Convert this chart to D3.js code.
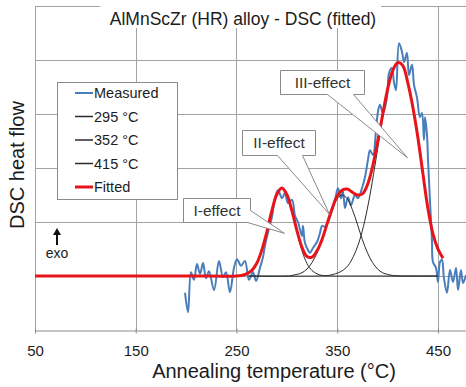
<!DOCTYPE html>
<html>
<head>
<meta charset="utf-8">
<script src="https://cdn.jsdelivr.net/npm/d3@7"></script>
<style>
  body { margin: 0; background: #fff; }
  svg { display: block; }
  text { font-family: "Liberation Sans", Arial, sans-serif; }
</style>
</head>
<body>
<svg id="chart" width="466" height="387"></svg>
<script>
"use strict";

// values: [temperature °C, heat flow (grid units)]
const measured = [
  [198.9, -0.31], [201.9, -0.67], [204.8, 0.07], [207.8, -0.07], [210.8, 0.22],
  [213.8, 0.04], [216.8, 0.24], [219.7, -0.04], [222.7, 0.09], [227.7, -0.26],
  [232.6, 0.28], [236.6, -0.02], [239.6, 0.07], [243.5, -0.30], [247.5, 0.15],
  [250.5, 0.31], [254.5, 0.19], [258.4, 0.28], [262.4, -0.07], [266.4, 0.07],
  [269.4, -0.09], [273.3, 0.15], [276.3, 0.35], [278.3, 0.57], [281.3, 0.81],
  [285.2, 1.09], [288.2, 1.44], [291.2, 1.59], [295.2, 1.44], [298.1, 1.54],
  [301.1, 1.35], [305.1, 1.41], [308.1, 1.11], [311.0, 1.00], [315.0, 0.74],
  [316.0, 0.93], [318.0, 0.61], [321.0, 0.48], [322.9, 0.43], [325.9, 0.52],
  [329.9, 0.63], [332.9, 0.80], [334.9, 0.93], [337.8, 0.91], [340.8, 1.00],
  [344.8, 1.22], [347.8, 1.41], [350.7, 1.63], [353.7, 1.44], [355.7, 1.56],
  [357.7, 1.26], [360.7, 1.46], [363.6, 1.31], [367.6, 1.50], [370.6, 1.44],
  [374.6, 1.63], [377.5, 1.83], [380.5, 2.15], [382.5, 2.33], [385.5, 2.24],
  [388.5, 2.70], [390.4, 3.04], [392.4, 3.17], [395.4, 3.02], [399.4, 3.31],
  [401.4, 3.76], [404.3, 3.85], [406.3, 3.59], [408.3, 3.44], [411.3, 4.31],
  [414.3, 4.15], [416.3, 3.96], [419.2, 4.13], [421.2, 3.72], [424.2, 3.91],
  [426.2, 3.54], [429.2, 3.30], [432.1, 2.94], [434.1, 3.02], [436.1, 2.52],
  [437.1, 2.94], [439.1, 2.61], [440.1, 2.15], [442.0, 1.41], [444.0, 0.67],
  [445.0, 0.26], [448.0, 0.15], [450.0, -0.11], [452.0, 0.26], [453.9, 0.30],
  [455.9, -0.04], [458.9, -0.31], [461.9, 0.11], [464.9, -0.11], [467.9, 0.15],
  [469.9, -0.26], [472.8, 0.11], [474.8, -0.13], [477.8, 0.02]
]

const peak295 = [
  [255, 0.01], [260, 0.04], [265, 0.10], [270, 0.23], [275, 0.47], [280, 0.81],
  [285, 1.20], [290, 1.51], [295, 1.63], [300, 1.51], [305, 1.20], [310, 0.81],
  [315, 0.47], [320, 0.23], [325, 0.10], [330, 0.04], [335, 0.01], [345, 0],
  [360, 0], [400, 0], [450, 0]
]

const peak352 = [
  [262, 0], [300, 0], [305, 0.01], [310, 0.03], [315, 0.06], [320, 0.13],
  [325, 0.25], [330, 0.43], [335, 0.67], [340, 0.96], [345, 1.23], [350, 1.43],
  [355, 1.50], [360, 1.43], [365, 1.23], [370, 0.96], [375, 0.67], [380, 0.43],
  [385, 0.25], [390, 0.13], [395, 0.06], [400, 0.03], [405, 0.01], [415, 0],
  [430, 0], [450, 0]
]

const peak415 = [
  [262, 0], [330, 0], [341, 0.01], [346, 0.03], [351, 0.06], [356, 0.11],
  [361, 0.20], [366, 0.36], [371, 0.59], [376, 0.92], [381, 1.35], [386, 1.88],
  [391, 2.46], [396, 3.02], [401, 3.51], [406, 3.83], [411, 3.95], [416, 3.83],
  [421, 3.51], [426, 3.02], [431, 2.40], [436, 1.80], [441, 1.15], [446, 0.70],
  [450, 0.45]
]

const fitted = [
  [50, 0], [200, 0], [250, 0], [255, 0.01], [260, 0.04], [265, 0.10], [270, 0.23],
  [275, 0.47], [280, 0.81], [285, 1.20], [290, 1.51], [295, 1.63], [300, 1.51],
  [305, 1.21], [310, 0.84], [315, 0.53], [320, 0.36], [325, 0.35], [330, 0.47],
  [335, 0.68], [340, 0.97], [345, 1.25], [350, 1.48], [355, 1.59], [360, 1.61],
  [365, 1.55], [370, 1.50], [375, 1.52], [380, 1.69], [385, 2.02], [390, 2.48],
  [395, 2.98], [400, 3.46], [405, 3.80], [410, 3.95], [415, 3.90], [420, 3.58],
  [425, 3.13], [430, 2.57], [435, 1.90], [440, 1.25], [445, 0.78], [450, 0.50],
  [455, 0.33]
]

const xTicks = [50, 150, 250, 350, 450]
const yGrid = [0, 1, 2, 3, 4, 5]
const legendLabels = ['Measured', '295 °C', '352 °C', '415 °C', 'Fitted']
const calloutLabels = ['I-effect', 'II-effect', 'III-effect']
// where each callout points, in data units
const calloutTargets = [[297.1, 0.80], [341.8, 1.15], [419.2, 2.20]]

const c = {
  BLUE: '#4a7ebb',
  RED: '#e8141c',
  BLACK: '#2b2b2b',
  GRID: '#a3a3a3',
  TEXT: '#1c1c1c',
}

const svg = d3.select('#chart')

const x = d3.scaleLinear().domain([50, 477.8]).range([35, 466])
const y = d3.scaleLinear().domain([-1, 5]).range([330, 6])

const crisp = v => Math.round(v) + 0.5

// grid
const grid = svg.append('g')
  .attr('stroke', c.GRID)
  .attr('stroke-width', 1)

grid.selectAll('line.h')
  .data(yGrid)
  .enter().append('line')
    .attr('class', 'h')
    .attr('x1', x(50)).attr('x2', 466)
    .attr('y1', d => crisp(y(d))).attr('y2', d => crisp(y(d)))

grid.selectAll('line.v')
  .data(xTicks)
  .enter().append('line')
    .attr('class', 'v')
    .attr('x1', d => crisp(x(d))).attr('x2', d => crisp(x(d)))
    .attr('y1', y(5)).attr('y2', y(-1))

// x axis
const axis = svg.append('g')
  .attr('transform', `translate(0,${crisp(y(-1))})`)
  .call(d3.axisBottom(x)
    .tickValues(xTicks)
    .tickSize(5)
    .tickSizeOuter(0)
    .tickPadding(10))

axis.attr('font-family', null)
axis.select('.domain').attr('stroke', '#8a8a8a')
axis.selectAll('.tick line').attr('stroke', '#8a8a8a').attr('transform', 'translate(0,-2)')
axis.selectAll('.tick text')
  .attr('font-size', 15)
  .attr('fill', c.TEXT)

// title
svg.append('rect')
  .attr('x', 100).attr('y', 0)
  .attr('width', 281).attr('height', 28)
  .attr('fill', '#fff')

svg.append('text')
  .attr('x', 243).attr('y', 25)
  .attr('text-anchor', 'middle')
  .attr('font-size', 17.5)
  .attr('fill', c.TEXT)
  .text('AlMnScZr (HR) alloy - DSC (fitted)')

// curves
const smooth = d3.line()
  .x(d => x(d[0]))
  .y(d => y(d[1]))
  .curve(d3.curveCatmullRom.alpha(0.5))

svg.append('path')
  .datum(measured)
  .attr('d', smooth)
  .attr('fill', 'none')
  .attr('stroke', c.BLUE)
  .attr('stroke-width', 2)
  .attr('stroke-linejoin', 'round')

svg.selectAll('path.peak')
  .data([peak295, peak352, peak415])
  .enter().append('path')
    .attr('class', 'peak')
    .attr('d', smooth)
    .attr('fill', 'none')
    .attr('stroke', c.BLACK)
    .attr('stroke-width', 1)

svg.append('path')
  .datum(fitted)
  .attr('d', smooth)
  .attr('fill', 'none')
  .attr('stroke', c.RED)
  .attr('stroke-width', 3)
  .attr('stroke-linejoin', 'round')

// callouts: box in pixels, wedge base on the box edge
const calloutBoxes = [
  { x: 183, y: 198, w: 67, h: 24, wedge: (b, p) =>
      `M${b.x},${b.y}H${b.x + b.w}V${b.y + 12}L${p}L${b.x + b.w - 3},${b.y + b.h}H${b.x}Z` },
  { x: 242, y: 130, w: 73, h: 25, wedge: (b, p) =>
      `M${b.x},${b.y}H${b.x + b.w}V${b.y + b.h}H302L${p}L277,${b.y + b.h}H${b.x}Z` },
  { x: 280, y: 70, w: 84, h: 24, wedge: (b, p) =>
      `M${b.x},${b.y}H${b.x + b.w}V${b.y + b.h}H353L${p}L327,${b.y + b.h}H${b.x}Z` },
]

calloutLabels.forEach((label, i) => {
  const b = calloutBoxes[i]
      , t = calloutTargets[i]
      , p = `${x(t[0])},${y(t[1])}`

  svg.append('path')
    .attr('d', b.wedge(b, p))
    .attr('fill', '#fff')
    .attr('stroke', '#8a8a8a')
    .attr('stroke-width', 1)
    .attr('transform', 'translate(0.5,0.5)')

  svg.append('text')
    .attr('x', b.x + b.w / 2 + 0.5)
    .attr('y', b.y + b.h / 2 + 5.5)
    .attr('text-anchor', 'middle')
    .attr('font-size', 15.5)
    .attr('fill', '#333')
    .text(label)
})

// legend
const legend = svg.append('g')

legend.append('rect')
  .attr('x', 57.5).attr('y', 82.5)
  .attr('width', 120).attr('height', 117)
  .attr('fill', '#fff')
  .attr('stroke', '#8a8a8a')

const legendStyles = [
  [c.BLUE, 2], [c.BLACK, 1.5], [c.BLACK, 1.5], [c.BLACK, 1.5], [c.RED, 3]
]

legendLabels.forEach((label, i) => {
  const yy = 93 + i * 23.5

  legend.append('line')
    .attr('x1', 75).attr('x2', 93)
    .attr('y1', yy).attr('y2', yy)
    .attr('stroke', legendStyles[i][0])
    .attr('stroke-width', legendStyles[i][1])

  legend.append('text')
    .attr('x', 94).attr('y', yy + 5)
    .attr('font-size', 14.5)
    .attr('fill', c.TEXT)
    .text(label)
})

// exo arrow
svg.append('line')
  .attr('x1', 57).attr('x2', 57)
  .attr('y1', 245).attr('y2', 233)
  .attr('stroke', '#111')
  .attr('stroke-width', 2)

svg.append('path')
  .attr('d', 'M57,228L61,235H53Z')
  .attr('fill', '#111')

svg.append('text')
  .attr('x', 57).attr('y', 258)
  .attr('text-anchor', 'middle')
  .attr('font-size', 14)
  .attr('fill', c.TEXT)
  .text('exo')

// axis titles
svg.append('text')
  .attr('transform', 'translate(24,165) rotate(-90)')
  .attr('text-anchor', 'middle')
  .attr('font-size', 20)
  .attr('fill', c.TEXT)
  .text('DSC heat flow')

svg.append('text')
  .attr('x', 274).attr('y', 378)
  .attr('text-anchor', 'middle')
  .attr('font-size', 20)
  .attr('fill', c.TEXT)
  .text('Annealing temperature (°C)')
</script>
</body>
</html>
